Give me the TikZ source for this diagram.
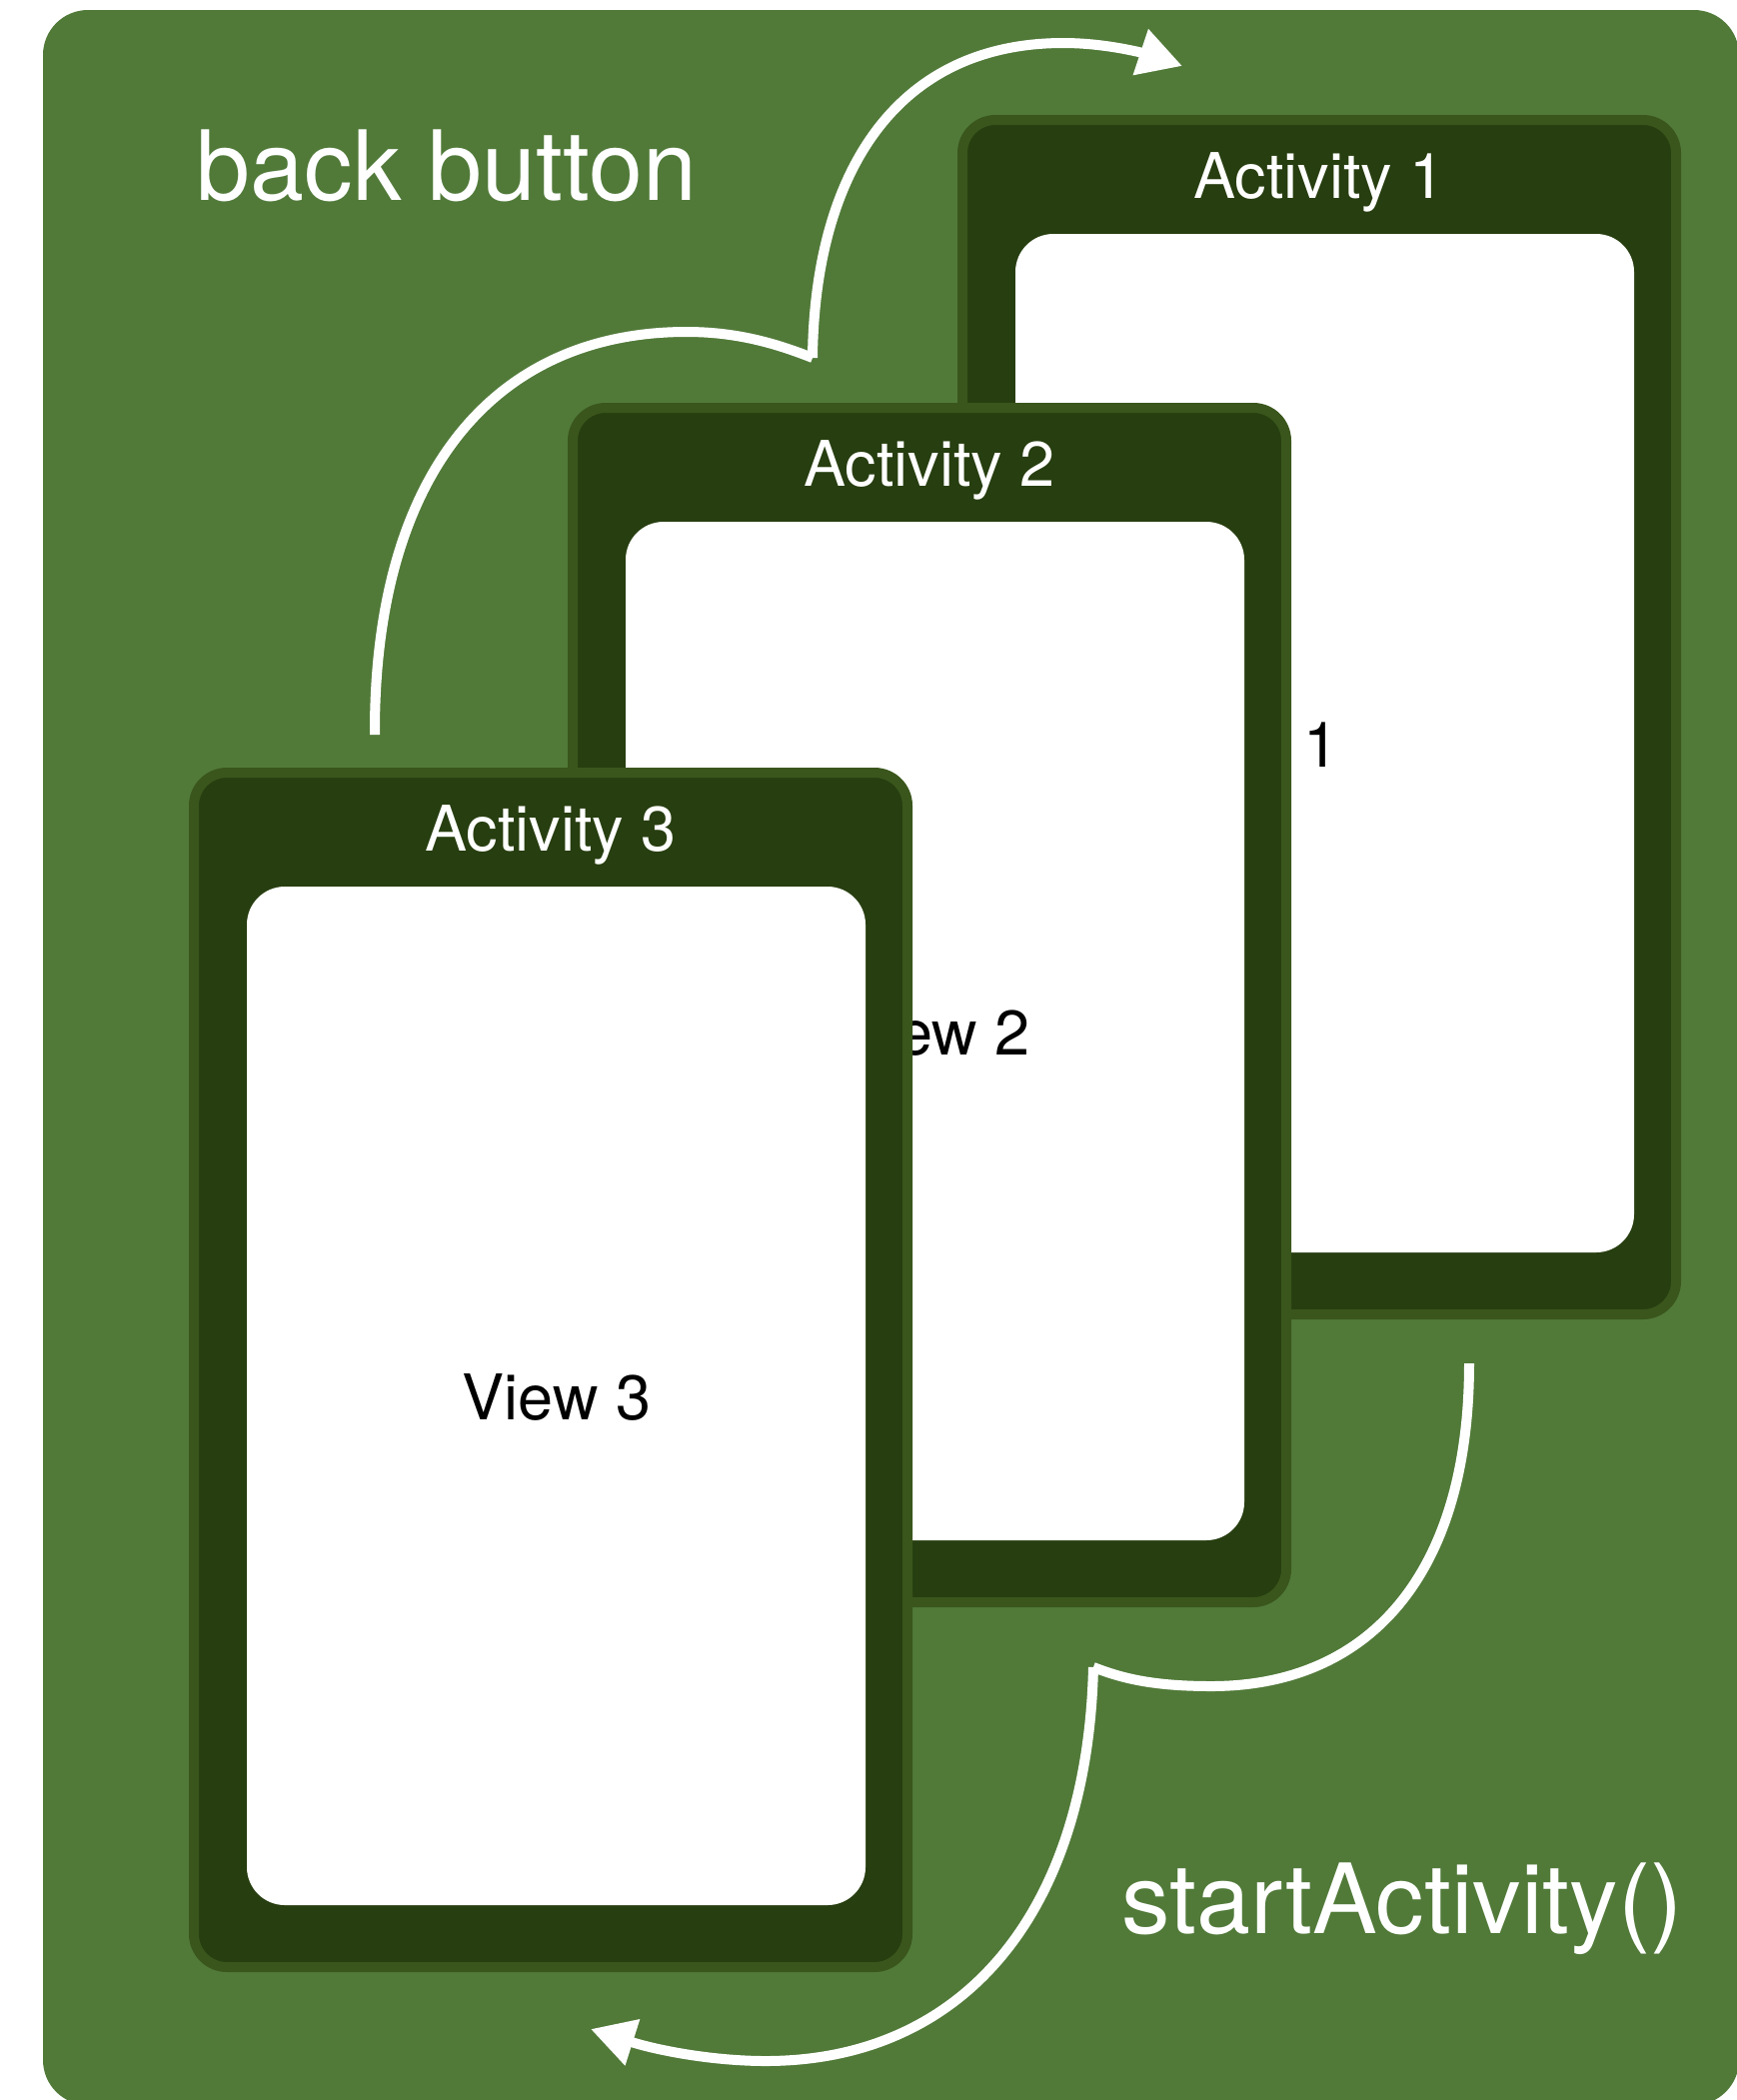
\documentclass[tikz,border=0pt]{standalone}
\usepackage{fontspec}
\setmainfont{TeX Gyre Heros}
\usetikzlibrary{arrows.meta}
\definecolor{bggreen}{HTML}{517A39}
\definecolor{carddark}{HTML}{273E10}
\definecolor{cardedge}{HTML}{3A561C}
\begin{document}
\begin{tikzpicture}[x=0.5pt,y=-0.5pt,
  cardframe/.style={draw=cardedge, fill=carddark, line width=5pt, rounded corners=16.5pt,
    minimum width=357pt, minimum height=597.5pt, inner sep=0pt, outer sep=0pt},
  screen/.style={fill=white, rounded corners=19pt, minimum width=309.5pt,
    minimum height=509.5pt, inner sep=0pt, outer sep=0pt},
  acttitle/.style={anchor=base, text=white, inner sep=0pt, font=\fontsize{31.5}{36}\selectfont},
  viewlabel/.style={anchor=base, text=black, inner sep=0pt, font=\fontsize{31.5}{36}\selectfont},
  biglabel/.style={anchor=base, text=white, inner sep=0pt, font=\fontsize{48.5}{54}\selectfont},
  flow/.style={draw=white, line width=5pt},
  flowtip/.style={flow, -{Triangle[length=22pt,width=23pt]}}]
\useasboundingbox (0,0) rectangle (1738,2101);
% background panel
\fill[bggreen, rounded corners=22.5pt] (43,10) rectangle (1740,2106);

% Activity 1
\node[cardframe] (a1) at (1320,717.5) {};
\node[screen] (s1) at (1325.5,743.5) {};
\node[acttitle] (t1) at (1320,198) {Activity 1};
\node[viewlabel] (v1) at (1245,767) {View 1};

% Activity 2
\node[cardframe] (a2) at (930,1005.5) {};
\node[screen] (s2) at (935.5,1031.5) {};
\node[acttitle] (t2) at (930,486) {Activity 2};
\node[viewlabel] (v2) at (936.5,1055.5) {View 2};

% Activity 3
\node[cardframe] (a3) at (551,1370.5) {};
\node[screen] (s3) at (556.5,1396.5) {};
\node[acttitle] (t3) at (551,851) {Activity 3};
\node[viewlabel] (v3) at (557,1420) {View 3};

% labels
\node[biglabel] (back) at (447,200) {back button};
\node[biglabel] (start) at (1403,1934) {startActivity()};

% back button arrow
\coordinate (bs) at (375,735);
\coordinate (bp) at (687,332);
\coordinate (bk) at (813,358);
\coordinate (bq) at (1064,43);
\coordinate (be) at (1183,66);
\draw[flow] (bs) .. controls (374,480) and (490,332) .. (bp)
            .. controls (740,332) and (780,345) .. (bk);
\draw[flowtip] (bk) .. controls (815,175) and (895,43) .. (bq)
            .. controls (1110,43) and (1150,55) .. (be);

% startActivity arrow
\coordinate (ss) at (1470,1364);
\coordinate (sp) at (1212,1687);
\coordinate (sk) at (1094,1668);
\coordinate (sq) at (766,2062);
\coordinate (se) at (591,2030);
\draw[flow] (ss) .. controls (1470,1575) and (1370,1687) .. (sp)
            .. controls (1150,1687) and (1120,1678) .. (sk);
\draw[flowtip] (sk) .. controls (1088,1915) and (963,2062) .. (sq)
            .. controls (715,2062) and (660,2052) .. (se);
\end{tikzpicture}
\end{document}
